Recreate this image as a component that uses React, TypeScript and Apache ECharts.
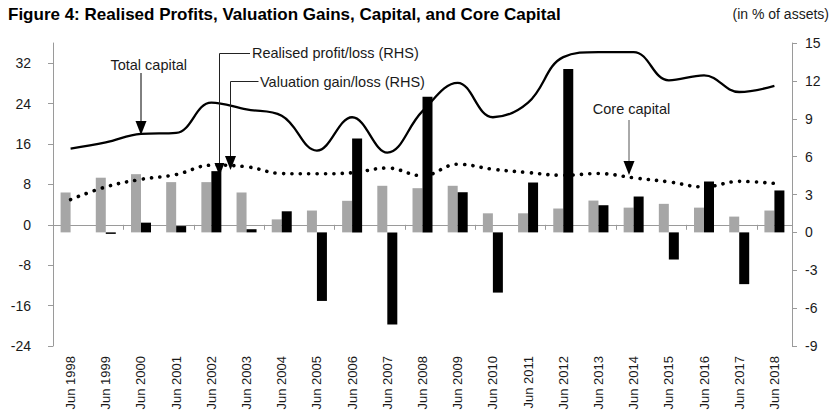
import React, { useEffect, useRef } from "react";
import * as echarts from "echarts";

const years = [
  "Jun 1998", "Jun 1999", "Jun 2000", "Jun 2001", "Jun 2002", "Jun 2003", "Jun 2004",
  "Jun 2005", "Jun 2006", "Jun 2007", "Jun 2008", "Jun 2009", "Jun 2010", "Jun 2011",
  "Jun 2012", "Jun 2013", "Jun 2014", "Jun 2015", "Jun 2016", "Jun 2017", "Jun 2018",
];

// RHS (% of assets)
const realisedProfit = [3.16, 4.33, 4.61, 3.98, 3.98, 3.16, 1.03, 1.73, 2.5, 3.69, 3.5, 3.69, 1.51, 1.51, 1.89, 2.52, 1.96, 2.26, 1.96, 1.25, 1.73];
const valuationGain = [0, -0.12, 0.77, 0.5, 4.85, 0.25, 1.67, -5.43, 7.43, -7.29, 10.74, 3.18, -4.77, 3.95, 12.94, 2.15, 2.84, -2.15, 4.03, -4.1, 3.32];

// LHS (% of assets)
const totalCapital = [15.1, 16.3, 18.0, 18.2, 24.2, 22.85, 21.6, 14.7, 21.3, 14.3, 22.5, 28.1, 21.3, 24.2, 33.2, 34.2, 34.2, 28.6, 29.6, 26.3, 27.5];
const coreCapital = [5.0, 7.5, 9.0, 9.95, 11.8, 11.5, 10.15, 10.1, 10.3, 11.25, 9.7, 12.0, 11.0, 10.35, 9.8, 10.15, 9.3, 8.5, 7.5, 8.6, 8.2];

const leftMin = -24;
const leftMax = 36;
const leftInterval = 8;
const rightMin = -9;
const rightMax = 15;
const rightInterval = 3;

const FONT = "'Liberation Sans', Arial, sans-serif";
const AXIS_GRAY = "#9a9a9a";
const TEXT = "#1a1a1a";

export default function App() {
  const ref = useRef<HTMLDivElement>(null);

  useEffect(() => {
    if (!ref.current) return;
    const chart = echarts.init(ref.current, undefined, { renderer: "svg" });

    const annoText = (text: string, x: number, y: number, align: string) => ({
      type: "text",
      z: 100,
      x,
      y,
      style: {
        text,
        fill: TEXT,
        font: `14.5px ${FONT}`,
        textAlign: align,
        textVerticalAlign: "middle",
      },
    });
    const stroke = (color: string) => ({ stroke: color, lineWidth: 1, fill: "none" });

    chart.setOption({
      animation: false,
      textStyle: { fontFamily: FONT },
      grid: { left: 53, right: 41, top: 43, bottom: 69, containLabel: false },
      xAxis: [
        {
          type: "category",
          data: years,
          position: "bottom",
          boundaryGap: true,
          axisLine: { show: false, onZero: false },
          axisTick: { show: false },
          axisLabel: { rotate: 90, margin: 10, fontSize: 13, color: TEXT, fontFamily: FONT, interval: 0 },
          splitLine: { show: false },
        },
        {
          type: "category",
          data: years,
          position: "bottom",
          boundaryGap: true,
          axisLine: { show: true, onZero: true, onZeroAxisIndex: 0, lineStyle: { color: AXIS_GRAY, width: 1 } },
          axisTick: { show: true, length: 5, lineStyle: { color: AXIS_GRAY } },
          axisLabel: { show: false },
          splitLine: { show: false },
        },
      ],
      yAxis: [
        {
          type: "value",
          position: "left",
          min: leftMin,
          max: leftMax,
          interval: leftInterval,
          axisLine: { show: true, lineStyle: { color: AXIS_GRAY } },
          axisTick: { show: true, length: 5, lineStyle: { color: AXIS_GRAY } },
          axisLabel: {
            margin: 22,
            fontSize: 14,
            color: TEXT,
            fontFamily: FONT,
            showMaxLabel: false,
            formatter: (v: number) => (v === leftMax ? "" : String(v)),
          },
          splitLine: { show: false },
        },
        {
          type: "value",
          position: "right",
          min: rightMin,
          max: rightMax,
          interval: rightInterval,
          axisLine: { show: true, lineStyle: { color: AXIS_GRAY } },
          axisTick: { show: true, length: 5, lineStyle: { color: AXIS_GRAY } },
          axisLabel: { margin: 13, fontSize: 14, color: TEXT, fontFamily: FONT },
          splitLine: { show: false },
        },
      ],
      series: [
        {
          name: "Realised profit/loss (RHS)",
          type: "bar",
          xAxisIndex: 0,
          yAxisIndex: 1,
          data: realisedProfit,
          barWidth: 10,
          barGap: "0%",
          itemStyle: { color: "#a6a6a6" },
          z: 2,
        },
        {
          name: "Valuation gain/loss (RHS)",
          type: "bar",
          xAxisIndex: 0,
          yAxisIndex: 1,
          data: valuationGain,
          barWidth: 10,
          barGap: "0%",
          itemStyle: { color: "#000000" },
          z: 2,
        },
        {
          name: "Total capital",
          type: "line",
          xAxisIndex: 0,
          yAxisIndex: 0,
          data: totalCapital,
          smooth: 0.4,
          symbol: "none",
          lineStyle: { color: "#000", width: 2.3 },
          z: 5,
        },
        {
          name: "Core capital",
          type: "line",
          xAxisIndex: 0,
          yAxisIndex: 0,
          data: coreCapital,
          smooth: 0.4,
          symbol: "none",
          lineStyle: { color: "#000", width: 3.6, type: [0.1, 8.3], cap: "round" },
          z: 5,
        },
      ],
      graphic: [
        {
          type: "text",
          z: 100,
          x: 8,
          y: 14,
          style: {
            text: "Figure 4: Realised Profits, Valuation Gains, Capital, and Core Capital",
            fill: "#000",
            font: `bold 17px ${FONT}`,
            textAlign: "left",
            textVerticalAlign: "middle",
          },
        },
        {
          type: "text",
          z: 100,
          x: 829,
          y: 14,
          style: {
            text: "(in % of assets)",
            fill: TEXT,
            font: `14px ${FONT}`,
            textAlign: "right",
            textVerticalAlign: "middle",
          },
        },
        annoText("Total capital", 148.7, 65, "center"),
        { type: "line", z: 100, shape: { x1: 141, y1: 73, x2: 141, y2: 122 }, style: stroke("#000") },
        { type: "polygon", z: 100, shape: { points: [[135.5, 121], [146.5, 121], [141, 135]] }, style: { fill: "#000" } },

        annoText("Realised profit/loss (RHS)", 252, 53, "left"),
        { type: "polyline", z: 100, shape: { points: [[250, 53.5], [219.5, 53.5], [219.5, 164]] }, style: stroke("#222") },
        { type: "polygon", z: 100, shape: { points: [[214.5, 163], [224.5, 163], [219.5, 176]] }, style: { fill: "#000" } },

        annoText("Valuation gain/loss (RHS)", 260, 82, "left"),
        { type: "polyline", z: 100, shape: { points: [[258.5, 81.5], [230.5, 81.5], [230.5, 157]] }, style: stroke("#222") },
        { type: "polygon", z: 100, shape: { points: [[225, 156], [236, 156], [230.5, 170]] }, style: { fill: "#000" } },

        annoText("Core capital", 631.5, 108.5, "center"),
        { type: "line", z: 100, shape: { x1: 629, y1: 120, x2: 629, y2: 162 }, style: stroke("#555") },
        { type: "polygon", z: 100, shape: { points: [[623.5, 161], [634.5, 161], [629, 175]] }, style: { fill: "#000" } },
      ],
    });

    return () => chart.dispose();
  }, []);

  return (
    <div
      ref={ref}
      style={{ position: "fixed", left: 0, top: 0, width: 833, height: 415, background: "#fff" }}
    />
  );
}
